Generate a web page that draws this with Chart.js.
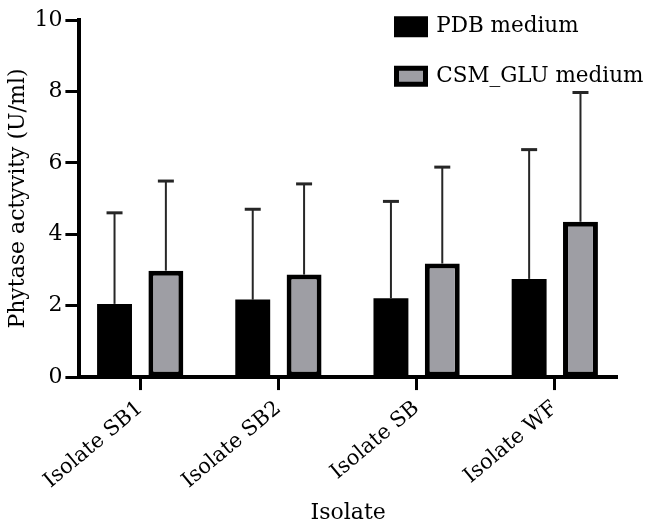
<!DOCTYPE html>
<html>
<head>
<meta charset="utf-8">
<script src="https://cdn.jsdelivr.net/npm/chart.js@4.4.1/dist/chart.umd.min.js"></script>
<style>
  html, body { margin: 0; padding: 0; background: #fff; }
  #wrap { width: 649px; height: 526px; position: relative; }
</style>
</head>
<body>
<div id="wrap"><canvas id="c"></canvas></div>
<script>
const categories = ['Isolate SB1', 'Isolate SB2', 'Isolate SB', 'Isolate WF'];
const seriesNames = ['PDB medium', 'CSM_GLU medium'];
const pdbMean = [2.05, 2.17, 2.21, 2.75];
const pdbSD   = [2.55, 2.53, 2.71, 3.62];
const csmMean = [2.98, 2.87, 3.18, 4.35];
const csmSD   = [2.51, 2.54, 2.70, 3.62];
const yTicks  = [0, 2, 4, 6, 8, 10];
const xTitle = 'Isolate';
const yTitle = 'Phytase actyvity (U/ml)';

const FONT = 'DejaVu Serif';
const toPoints = (arr) => arr.map((v, i) => ({ x: i, y: v }));

const errorBars = {
  id: 'errorBars',
  beforeDatasetsDraw(chart) {
    const ctx = chart.ctx;
    const yScale = chart.scales.y;
    ctx.save();
    ctx.strokeStyle = '#262626';
    chart.data.datasets.forEach((ds, di) => {
      const meta = chart.getDatasetMeta(di);
      meta.data.forEach((el, i) => {
        const top = yScale.getPixelForValue(ds.data[i].y + ds.sd[i]);
        ctx.lineWidth = 2;
        ctx.beginPath();
        ctx.moveTo(el.x, el.y);
        ctx.lineTo(el.x, top);
        ctx.stroke();
        ctx.lineWidth = 3;
        ctx.beginPath();
        ctx.moveTo(el.x - 8, top);
        ctx.lineTo(el.x + 8, top);
        ctx.stroke();
      });
    });
    ctx.restore();
  }
};

const legendPlace = {
  id: 'legendPlace',
  afterLayout(chart) {
    const lg = chart.legend;
    const pad = lg.options.labels.padding;
    const w = lg.width, h = lg.height;
    lg.left = 396.5 - pad;
    lg.top = 16 - pad;
    lg.right = lg.left + w;
    lg.bottom = lg.top + h;
  }
};

new Chart(document.getElementById('c'), {
  type: 'bar',
  data: {
    datasets: [
      {
        label: seriesNames[0],
        data: toPoints(pdbMean),
        sd: pdbSD,
        backgroundColor: '#000000',
        borderColor: '#000000',
        borderWidth: 0,
        categoryPercentage: 0.743,
        barPercentage: 0.68
      },
      {
        label: seriesNames[1],
        data: toPoints(csmMean),
        sd: csmSD,
        backgroundColor: '#9e9ea4',
        borderColor: '#000000',
        borderWidth: 5,
        borderSkipped: false,
        categoryPercentage: 0.743,
        barPercentage: 0.68
      }
    ]
  },
  options: {
    responsive: true,
    maintainAspectRatio: false,
    animation: false,
    layout: { padding: { left: 0, right: 32, top: 20, bottom: 0 } },
    plugins: {
      legend: {
        position: 'chartArea',
        align: 'start',
        labels: {
          boxWidth: 29,
          boxHeight: 16,
          padding: 28,
          color: '#000',
          font: { family: FONT, size: 21.5 },
          generateLabels: (chart) => {
            const items = Chart.defaults.plugins.legend.labels.generateLabels(chart);
            items.forEach(it => { it.lineWidth = 5; it.strokeStyle = '#000'; });
            return items;
          }
        }
      },
      tooltip: { enabled: false }
    },
    scales: {
      x: {
        type: 'linear',
        min: -0.44,
        max: 3.45,
        offset: false,
        afterBuildTicks: (s) => { s.ticks = categories.map((_, i) => ({ value: i })); },
        ticks: {
          autoSkip: false,
          minRotation: 40,
          maxRotation: 40,
          padding: 6,
          color: '#000',
          font: { family: FONT, size: 21 },
          callback: (v) => categories[v]
        },
        grid: { offset: false, drawOnChartArea: false, drawTicks: true, tickLength: 13, tickWidth: 3, color: '#000' },
        border: { display: true, width: 4, color: '#000' },
        title: { display: true, text: xTitle, color: '#000', font: { family: FONT, size: 22 }, padding: { top: 0, bottom: 0 } }
      },
      y: {
        min: 0,
        max: 10,
        afterBuildTicks: (s) => { s.ticks = yTicks.map(v => ({ value: v })); },
        ticks: {
          padding: 3,
          color: '#000',
          font: { family: FONT, size: 22 }
        },
        grid: { drawOnChartArea: false, drawTicks: true, tickLength: 14, tickWidth: 3, color: '#000' },
        border: { display: true, width: 4, color: '#000' },
        title: { display: true, text: yTitle, color: '#000', font: { family: FONT, size: 22 }, padding: { top: 5, bottom: 0 } }
      }
    }
  },
  plugins: [errorBars, legendPlace]
});
</script>
</body>
</html>
